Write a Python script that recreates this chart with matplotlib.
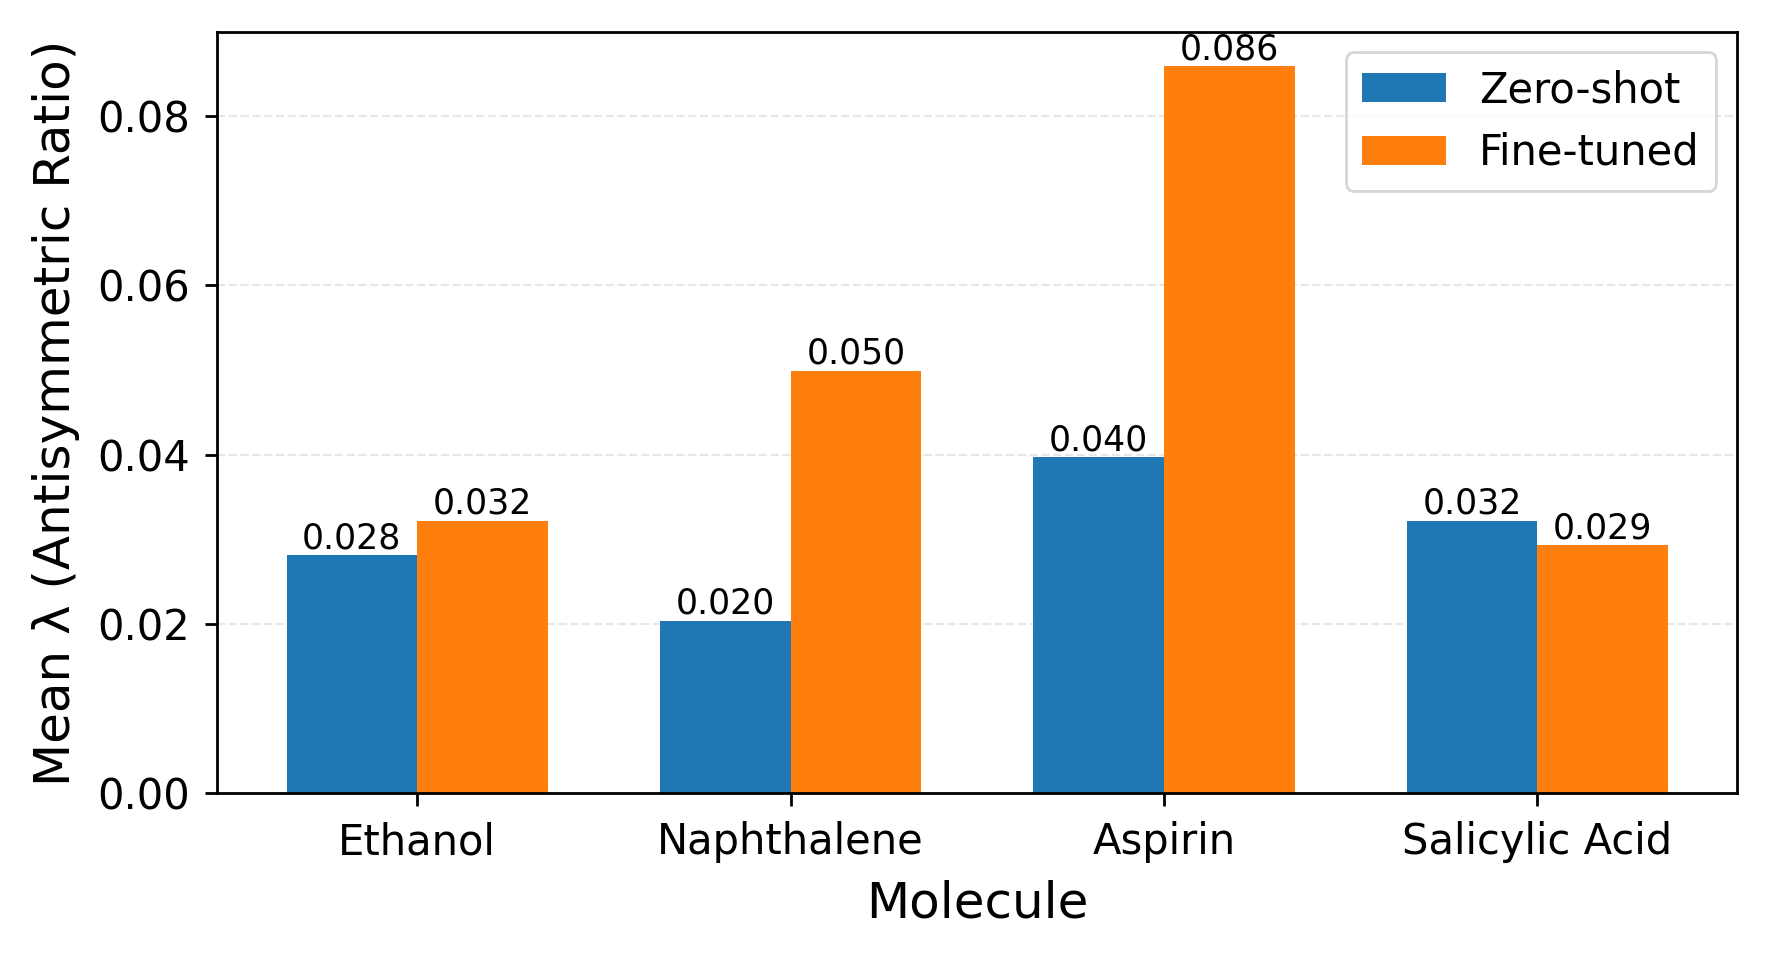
import matplotlib
matplotlib.use("Agg")
import matplotlib.pyplot as plt
import numpy as np

molecules = ["Ethanol", "Naphthalene", "Aspirin", "Salicylic Acid"]
zero_shot = [0.0281, 0.0204, 0.0397, 0.0322]
fine_tuned = [0.0322, 0.0499, 0.0859, 0.0293]

fig = plt.figure(figsize=(8.84, 4.79), dpi=200)
ax = fig.add_axes([0.123, 0.172, 0.8595, 0.795])
x = np.arange(len(molecules))
w = 0.35
b1 = ax.bar(x - w/2, zero_shot, w, label="Zero-shot", color="#1f77b4")
b2 = ax.bar(x + w/2, fine_tuned, w, label="Fine-tuned", color="#ff7f0e")
for bars in (b1, b2):
    for r in bars:
        ax.text(r.get_x() + r.get_width()/2, r.get_height(), f"{r.get_height():.3f}",
                ha="center", va="bottom", fontsize=12.5)
ax.set_xticks(x)
ax.set_xticklabels(molecules, fontsize=15)
ax.set_yticks([0, 0.02, 0.04, 0.06, 0.08])
ax.tick_params(axis="both", length=4.5, width=1.0, pad=5.5)
ax.tick_params(axis="y", labelsize=15)
for s in ax.spines.values():
    s.set_linewidth(1.0)
ax.set_ylim(0, 0.09)
ax.set_xlabel("Molecule", fontsize=18, labelpad=6)
ax.set_ylabel("Mean λ (Antisymmetric Ratio)", fontsize=18, labelpad=6)
ax.yaxis.grid(True, linestyle="--", alpha=0.3)
ax.set_axisbelow(True)
ax.legend(fontsize=15, loc="upper right")
fig.savefig("out.png", dpi=200)
